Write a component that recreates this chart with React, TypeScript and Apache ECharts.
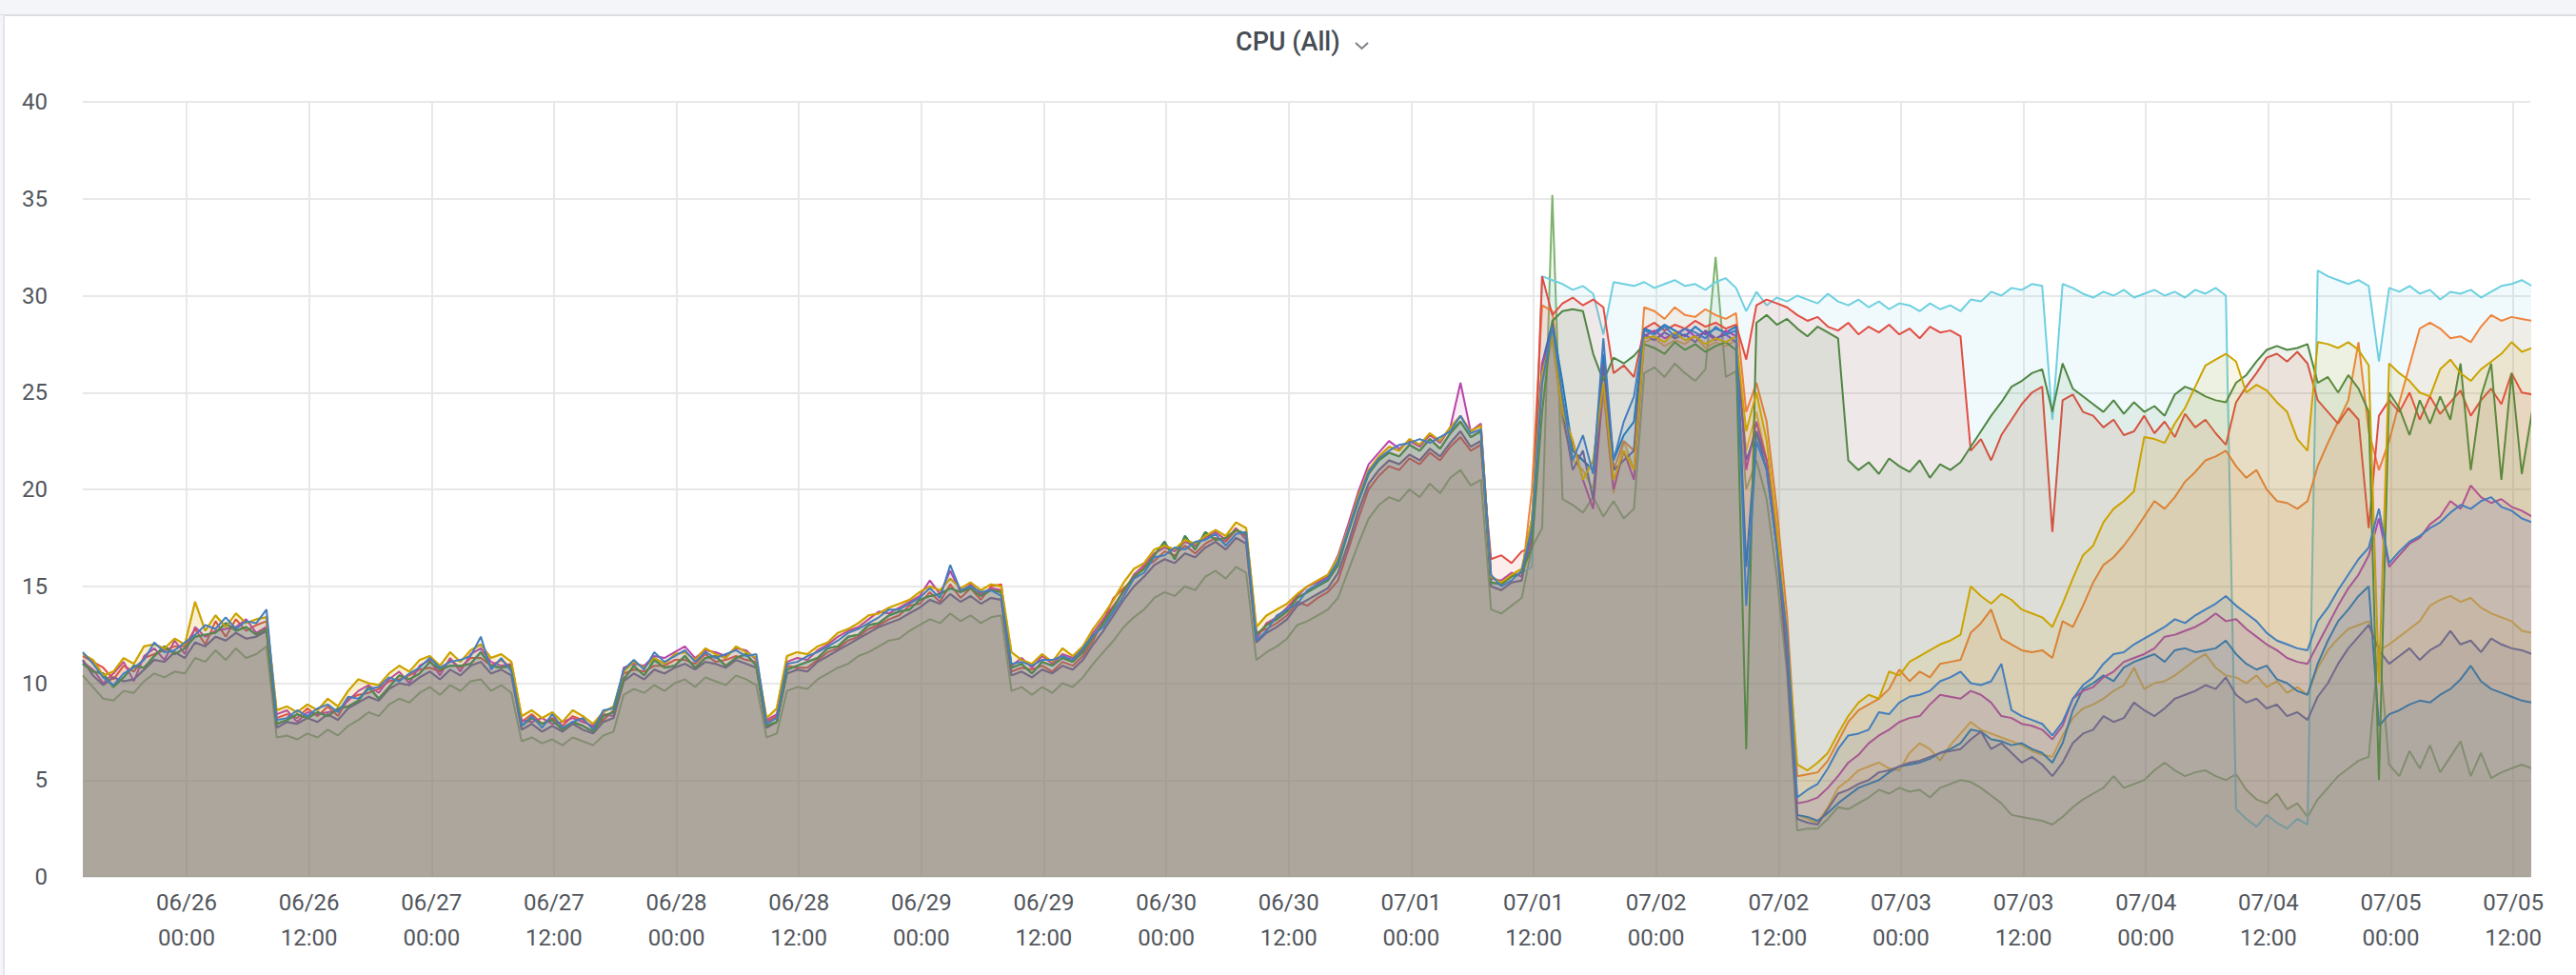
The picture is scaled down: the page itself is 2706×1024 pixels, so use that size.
import React, { useEffect, useRef } from "react";
import * as echarts from "echarts";

// time base: first sample 06/25 13:50 UTC, one sample per hour
const START = Date.UTC(2023, 5, 25, 13, 50);
const END = Date.UTC(2023, 6, 5, 13, 40);
const STEP = 3600 * 1000;

// x tick labels: every 12 hours from 06/26 00:00 to 07/05 12:00
const FIRST_TICK = Date.UTC(2023, 5, 26, 0, 0);
const TICK_COUNT = 20;
const X_TICKS = Array.from({ length: TICK_COUNT }, (_, k) => FIRST_TICK + k * 12 * STEP);

const Y_MIN = 0;
const Y_MAX = 40;
const Y_STEP = 5;

// ---- early period (06/25 14:00 .. 07/01 11:00), shared shapes ----
const EARLY_A = [
  11.5, 11.2, 10.4, 10.6, 11.3, 11.0, 11.9, 12.0, 11.8, 12.3,
  12.0, 14.2, 12.7, 13.5, 12.9, 13.6, 13.1, 13.3, 13.4, 8.6,
  8.8, 8.5, 8.9, 8.6, 9.2, 8.8, 9.6, 10.2, 10.0, 9.9,
  10.5, 10.9, 10.6, 11.2, 11.4, 10.9, 11.6, 11.1, 11.7, 12.0,
  11.3, 11.5, 11.1, 8.3, 8.6, 8.2, 8.5, 8.0, 8.6, 8.3,
  7.9, 8.5, 8.8, 10.6, 11.1, 10.8, 11.3, 11.0, 11.5, 11.6,
  11.2, 11.8, 11.5, 11.3, 11.9, 11.6, 11.3, 8.2, 8.7, 11.4,
  11.6, 11.5, 11.9, 12.1, 12.6, 12.8, 13.1, 13.5, 13.6, 13.9,
  14.1, 14.3, 14.7, 15.0, 14.8, 15.4, 14.9, 15.2, 14.8, 15.1,
  15.0, 11.6, 11.2, 11.0, 11.5, 11.1, 11.8, 11.4, 11.9, 12.8,
  13.5, 14.3, 15.2, 15.9, 16.2, 16.9, 17.1, 16.9, 17.4, 17.2,
  17.6, 17.9, 17.6, 18.3, 18.0, 12.9, 13.5, 13.8, 14.1, 14.6,
  15.0, 15.3, 15.6, 16.5, 18.0, 19.7, 21.0, 21.7, 22.2, 22.0,
  22.6, 22.3, 22.9, 22.5, 23.2, 23.8, 23.0, 23.3, 15.5, 15.2,
  15.6, 15.9,
];
const EARLY_B = [
  11.0, 10.6, 10.5, 9.8, 10.3, 10.9, 10.8, 11.4, 11.9, 11.5,
  11.8, 12.4, 12.5, 12.6, 13.1, 12.7, 12.9, 12.5, 12.8, 7.9,
  8.1, 8.4, 8.2, 8.5, 8.3, 8.7, 8.8, 9.1, 9.8, 9.2,
  9.8, 10.4, 10.2, 10.5, 11.1, 10.7, 10.9, 10.9, 11.0, 11.6,
  10.9, 10.8, 10.9, 7.8, 8.2, 7.9, 8.1, 7.6, 8.0, 7.8,
  7.5, 8.3, 8.5, 10.2, 10.9, 10.4, 11.2, 10.8, 10.9, 11.4,
  10.8, 11.3, 11.4, 10.9, 11.3, 11.5, 10.9, 7.8, 8.0, 10.7,
  10.9, 11.1, 11.3, 11.8, 11.9, 12.4, 12.5, 13.0, 13.1, 13.5,
  13.7, 13.8, 14.3, 14.5, 14.6, 14.9, 14.7, 14.9, 14.5, 14.8,
  14.7, 10.8, 11.0, 10.5, 11.1, 10.9, 11.3, 11.1, 11.6, 12.4,
  13.1, 13.9, 14.8, 15.5, 15.9, 16.6, 17.3, 16.4, 17.6, 16.9,
  17.8, 17.4, 17.5, 17.9, 17.7, 12.5, 13.0, 13.3, 13.7, 14.4,
  14.7, 15.0, 15.3, 16.1, 17.8, 19.4, 20.8, 21.5, 21.9, 21.7,
  22.3, 22.0, 22.6, 22.1, 22.9, 23.5, 22.7, 23.0, 15.2, 15.1,
  15.5, 15.7,
];
const EARLY_C = [
  11.2, 10.4, 9.9, 10.3, 10.1, 10.2, 10.7, 11.2, 11.1, 11.6,
  11.3, 12.1, 11.9, 12.4, 12.2, 12.6, 12.3, 12.4, 12.7, 7.7,
  8.0, 7.9, 8.2, 8.0, 8.4, 8.1, 8.7, 9.0, 9.3, 9.1,
  9.7, 10.0, 9.9, 10.3, 10.6, 10.2, 10.7, 10.4, 10.9, 11.1,
  10.5, 10.7, 10.4, 7.6, 7.9, 7.5, 7.8, 7.5, 7.9, 7.6,
  7.4, 8.0, 8.2, 10.1, 10.5, 10.2, 10.7, 10.5, 10.8, 11.0,
  10.7, 11.1, 11.0, 10.8, 11.2, 11.0, 10.8, 7.7, 8.0, 10.5,
  10.7, 10.6, 11.1, 11.4, 11.7, 12.0, 12.3, 12.6, 12.9, 13.1,
  13.3, 13.6, 13.9, 14.3, 14.1, 14.6, 14.2, 14.5, 14.1, 14.4,
  14.3, 10.4, 10.6, 10.3, 10.7, 10.5, 10.9, 10.7, 11.2, 12.0,
  12.7, 13.5, 14.3, 15.0, 15.5, 16.1, 16.4, 16.2, 16.7, 16.5,
  17.0, 17.3, 16.9, 17.5, 17.2, 12.1, 12.6, 12.9, 13.3, 14.0,
  14.3, 14.6, 14.9, 15.7, 17.2, 18.9, 20.3, 21.0, 21.5, 21.3,
  21.8, 21.5, 22.1, 21.7, 22.4, 23.0, 22.2, 22.5, 15.0, 14.8,
  15.2, 15.3,
];
const EARLY_D = [
  11.4, 11.1, 10.8, 10.2, 10.9, 10.6, 11.3, 11.5, 11.7, 11.9,
  11.9, 12.8, 12.0, 13.2, 12.4, 13.3, 12.7, 13.0, 13.2, 8.2,
  8.4, 8.2, 8.7, 8.3, 8.8, 8.3, 9.2, 9.4, 9.5, 9.7,
  10.1, 10.2, 10.4, 10.7, 10.8, 10.6, 11.2, 10.8, 11.3, 11.3,
  10.9, 11.2, 10.8, 8.0, 8.4, 7.9, 8.2, 7.8, 8.3, 8.1,
  7.7, 8.1, 8.6, 10.5, 10.7, 10.6, 10.9, 10.9, 11.2, 11.2,
  11.0, 11.5, 11.1, 11.2, 11.4, 11.2, 11.1, 8.0, 8.3, 10.9,
  10.8, 10.8, 11.2, 11.6, 11.8, 12.2, 12.4, 12.8, 13.0, 13.3,
  13.5, 14.0, 14.1, 14.7, 14.2, 15.1, 14.4, 14.9, 14.3, 15.0,
  15.1, 10.6, 10.8, 10.7, 10.9, 10.6, 11.1, 10.9, 11.4, 12.2,
  13.2, 14.4, 14.9, 15.4, 16.0, 16.3, 16.8, 16.6, 17.1, 16.7,
  17.2, 17.5, 17.3, 17.9, 17.6, 12.6, 12.8, 13.1, 13.5, 14.2,
  14.0, 14.4, 14.7, 15.3, 16.9, 18.5, 20.0, 20.7, 21.2, 21.0,
  21.6, 21.3, 21.9, 21.5, 22.2, 22.7, 22.0, 22.3, 16.4, 16.6,
  16.2, 16.8,
];
const EARLY_E = [
  11.1, 10.7, 10.0, 10.5, 11.1, 10.1, 11.4, 11.8, 11.2, 12.2,
  11.5, 12.9, 12.4, 12.7, 12.8, 12.9, 13.3, 12.6, 12.9, 8.4,
  8.6, 8.0, 8.5, 8.4, 8.5, 8.6, 9.1, 9.6, 9.9, 9.5,
  10.2, 10.6, 10.0, 10.9, 11.2, 10.4, 11.3, 10.6, 11.5, 11.8,
  11.1, 10.9, 11.0, 8.1, 8.0, 8.2, 7.9, 8.0, 8.2, 8.0,
  7.8, 8.4, 8.3, 10.8, 11.0, 10.9, 11.4, 11.3, 11.6, 11.9,
  11.3, 11.7, 11.6, 11.4, 11.8, 11.7, 11.2, 8.1, 8.4, 11.1,
  11.3, 11.2, 11.7, 12.0, 12.4, 12.7, 12.9, 13.3, 13.7, 13.6,
  13.9, 14.2, 14.5, 15.3, 14.6, 15.8, 14.7, 15.1, 14.6, 14.9,
  14.8, 10.9, 11.3, 10.8, 11.4, 11.0, 11.5, 11.3, 11.7, 12.6,
  13.3, 14.0, 14.7, 15.6, 16.1, 16.7, 17.0, 16.8, 17.3, 17.1,
  17.5, 17.8, 17.4, 18.0, 17.4, 12.3, 13.1, 13.4, 13.9, 14.5,
  15.0, 15.2, 15.5, 16.6, 18.2, 19.9, 21.3, 21.9, 22.5, 22.1,
  22.5, 22.2, 22.8, 22.4, 23.2, 25.5, 23.0, 23.4, 15.4, 15.3,
  15.7, 15.5,
];
const EARLY_F = [
  11.6, 11.0, 10.3, 9.9, 10.5, 10.8, 11.2, 12.1, 11.6, 11.7,
  12.1, 12.5, 13.0, 12.8, 13.4, 12.8, 13.2, 13.1, 13.8, 8.1,
  8.2, 8.6, 8.3, 8.7, 8.9, 8.5, 9.3, 9.2, 9.7, 9.8,
  10.3, 10.1, 10.5, 10.8, 11.3, 10.8, 11.1, 11.2, 11.4, 12.4,
  10.7, 11.3, 10.6, 7.8, 8.3, 7.7, 8.4, 7.7, 8.0, 8.2,
  7.6, 8.6, 8.7, 10.7, 11.2, 10.7, 11.6, 11.1, 11.4, 11.7,
  11.1, 11.6, 11.3, 11.5, 11.7, 11.4, 11.5, 7.9, 8.2, 11.0,
  11.1, 11.4, 11.6, 11.9, 12.2, 12.6, 12.8, 13.1, 13.4, 13.8,
  13.8, 14.1, 14.4, 14.9, 14.4, 16.1, 14.8, 15.0, 14.7, 14.8,
  14.5, 11.0, 11.1, 10.9, 11.2, 11.2, 11.4, 11.2, 11.8, 12.5,
  12.9, 13.7, 14.5, 15.4, 15.7, 16.5, 16.6, 17.0, 16.9, 17.3,
  17.4, 17.7, 17.1, 17.7, 17.8, 12.2, 12.7, 13.5, 13.8, 14.1,
  14.8, 15.1, 15.4, 16.3, 17.9, 19.5, 20.9, 21.6, 22.0, 22.3,
  22.4, 22.6, 22.4, 22.7, 23.0, 23.8, 22.9, 23.1, 15.6, 15.0,
  15.3, 15.8,
];
const EARLY_LOW = [
  10.4, 9.8, 9.2, 9.1, 9.6, 9.5, 10.1, 10.5, 10.3, 10.6,
  10.5, 11.3, 11.1, 11.7, 11.2, 11.8, 11.3, 11.5, 11.9, 7.2,
  7.3, 7.1, 7.4, 7.2, 7.6, 7.3, 7.8, 8.1, 8.5, 8.3,
  8.9, 9.2, 9.0, 9.5, 9.8, 9.4, 9.9, 9.6, 10.1, 10.2,
  9.6, 9.9, 9.5, 7.0, 7.2, 6.9, 7.1, 6.8, 7.2, 7.0,
  6.8, 7.3, 7.5, 9.4, 9.7, 9.5, 9.9, 9.6, 10.0, 10.2,
  9.8, 10.3, 10.1, 9.9, 10.4, 10.2, 9.9, 7.2, 7.4, 9.6,
  9.8, 9.7, 10.2, 10.5, 10.8, 11.0, 11.4, 11.6, 11.9, 12.2,
  12.3, 12.7, 13.0, 13.3, 13.1, 13.6, 13.2, 13.5, 13.1, 13.4,
  13.5, 9.6, 9.8, 9.4, 9.8, 9.5, 10.0, 9.8, 10.3, 11.0,
  11.6, 12.2, 12.9, 13.4, 13.8, 14.4, 14.7, 14.5, 15.0, 14.8,
  15.5, 15.8, 15.4, 16.0, 15.7, 11.2, 11.6, 11.9, 12.3, 13.0,
  13.2, 13.5, 13.8, 14.4, 15.8, 17.2, 18.5, 19.2, 19.6, 19.4,
  20.0, 19.6, 20.3, 19.8, 20.6, 21.0, 20.2, 20.5, 13.8, 13.6,
  14.0, 14.4,
];

// ---- late period (07/01 12:00 .. 07/05 14:00), one per series ----
const LATE_GREEN = [
  17.0, 18.0, 35.2, 19.5, 19.2, 18.8, 19.6, 18.6, 19.4, 18.5,
  19.0, 26.0, 26.3, 25.8, 26.5, 26.0, 25.6, 26.2, 32.0, 25.8,
  26.1, 20.0, 21.5, 19.5, 15.5, 10.5, 2.4, 2.5, 2.5, 3.0,
  3.6, 3.5, 3.8, 4.1, 4.5, 4.3, 4.6, 4.4, 4.5, 4.1,
  4.6, 4.8, 5.0, 4.9, 4.6, 4.2, 3.8, 3.2, 3.1, 3.0,
  2.9, 2.7, 3.1, 3.6, 4.0, 4.3, 4.6, 5.2, 4.6, 4.8,
  5.0, 5.5, 5.9, 5.5, 5.2, 5.4, 5.5, 5.2, 5.0, 5.3,
  4.5, 4.0, 3.8, 4.3, 3.5, 3.8, 3.1, 4.0, 4.6, 5.2,
  5.6, 6.0, 6.2, 12.0, 5.8, 5.2, 6.5, 5.6, 6.8, 5.4,
  6.2, 7.0, 5.2, 6.4, 5.1, 5.4, 5.6, 5.8, 5.6,
];
const LATE_YELLOW = [
  18.0, 25.5, 27.8, 23.5, 21.5, 21.0, 20.0, 25.0, 19.8, 22.5,
  21.0, 27.6, 27.8, 27.4, 27.7, 27.5, 27.9, 27.3, 27.6, 27.4,
  27.7, 22.0, 24.0, 21.5, 17.0, 11.5, 3.2, 3.0, 2.8, 3.6,
  4.6, 5.0, 5.5, 5.7, 5.9, 5.6, 5.5, 6.4, 6.9, 6.6,
  6.0, 6.8, 7.4, 8.0, 7.6, 7.4, 7.2, 7.0, 6.8, 6.5,
  6.3, 6.2, 7.3, 8.2, 8.7, 8.9, 9.2, 9.6, 9.9, 10.8,
  9.7, 10.0, 10.1, 10.4, 10.8, 11.2, 11.5, 10.8, 10.4, 10.3,
  10.0, 10.4, 9.8, 10.1, 9.5, 9.8, 9.4, 10.8, 11.7, 12.3,
  12.8, 13.0, 13.2, 11.7, 12.0, 12.4, 12.8, 13.2, 14.0, 14.3,
  14.5, 14.2, 14.4, 13.9, 13.6, 13.4, 13.2, 12.7, 12.6,
];
const LATE_CYAN = [
  16.0, 31.0, 30.8, 30.6, 30.3, 30.5, 30.1, 28.0, 30.7, 30.6,
  30.5, 30.7, 30.4, 30.6, 30.8, 30.5, 30.6, 30.3, 30.7, 30.9,
  30.4, 29.2, 30.2, 29.5, 29.9, 29.7, 30.0, 29.8, 29.6, 30.1,
  29.7, 29.5, 29.8, 29.4, 29.7, 29.3, 29.6, 29.5, 29.2, 29.6,
  29.3, 29.5, 29.2, 29.8, 29.7, 30.2, 30.0, 30.4, 30.3, 30.6,
  30.5, 23.6, 30.6, 30.4, 30.1, 29.9, 30.2, 30.0, 30.3, 29.9,
  30.1, 30.3, 30.0, 30.2, 29.9, 30.3, 30.1, 30.4, 30.0, 3.5,
  3.0, 2.6, 3.2, 2.8, 2.5, 3.0, 2.7, 31.3, 31.0, 30.8,
  30.6, 30.8, 30.5, 26.6, 30.4, 30.2, 30.5, 30.1, 30.3, 29.8,
  30.2, 30.1, 30.3, 29.9, 30.2, 30.5, 30.6, 30.8, 30.5,
];
const LATE_ORANGE = [
  20.0, 29.5, 29.2, 24.5, 22.0, 21.5, 21.0, 26.5, 21.0, 22.5,
  22.0, 29.4, 29.2, 28.8, 29.4, 29.0, 28.9, 29.3, 29.0, 28.8,
  29.1, 24.0, 25.5, 23.5, 19.0, 13.5, 5.2, 5.3, 5.4, 6.0,
  7.0, 8.0, 8.6, 8.9, 9.2, 9.7, 10.7, 10.1, 10.6, 10.3,
  11.0, 11.1, 11.2, 12.6, 13.1, 13.8, 12.3, 12.0, 11.7, 11.6,
  11.7, 11.3, 13.2, 12.9, 14.0, 15.2, 16.1, 16.5, 17.1, 17.8,
  18.6, 19.4, 19.0, 19.6, 20.4, 20.9, 21.5, 21.7, 22.0, 21.2,
  20.6, 21.0, 20.0, 19.4, 19.3, 19.0, 19.4, 21.2, 22.4, 23.5,
  24.6, 27.6, 23.0, 21.0, 22.5, 24.5, 26.4, 28.3, 28.6, 28.3,
  27.8, 27.9, 27.6, 28.4, 29.0, 28.7, 28.9, 28.8, 28.7,
];
const LATE_RED = [
  17.0, 31.0, 29.0, 29.6, 29.9, 29.5, 29.8, 29.4, 26.0, 26.4,
  25.8, 28.3, 28.6, 28.2, 28.5, 28.3, 28.7, 28.4, 28.6, 28.3,
  28.5, 26.7, 29.5, 29.8, 29.6, 29.4, 29.0, 28.7, 28.9, 28.4,
  28.2, 28.6, 28.0, 28.4, 28.1, 28.5, 28.0, 28.3, 27.8, 28.4,
  28.1, 28.2, 27.9, 22.0, 22.6, 21.5, 22.8, 23.6, 24.4, 25.0,
  25.3, 17.8, 24.6, 24.9, 24.0, 23.8, 23.2, 23.6, 22.8, 23.0,
  23.8, 22.9, 23.5, 22.7, 23.9, 23.2, 23.6, 22.9, 22.3, 24.5,
  25.3, 26.0, 26.8, 27.0, 26.6, 27.1, 26.5, 24.6, 24.0, 23.4,
  24.2, 23.6, 18.0, 23.8, 24.6, 24.0, 25.0, 23.6, 24.8, 23.9,
  24.5, 25.1, 23.8, 24.6, 25.2, 24.4, 26.0, 25.0, 24.9,
];
const LATE_BLUE = [
  18.5, 26.5, 28.6, 25.5, 22.0, 21.5, 21.0, 27.0, 21.5, 22.8,
  23.5, 28.3, 28.1, 28.5, 28.2, 27.9, 28.4, 28.0, 28.3, 28.1,
  28.4, 16.0, 23.0, 21.5, 17.5, 12.0, 3.2, 3.1, 2.9, 3.3,
  3.8, 4.2, 4.6, 4.8, 5.0, 5.4, 5.7, 5.8, 5.9, 6.1,
  6.4, 6.6, 6.9, 7.6, 7.5, 7.1, 7.0, 6.8, 6.9, 6.6,
  6.4, 5.9, 6.9, 8.6, 9.7, 10.0, 10.4, 10.1, 10.8, 11.1,
  11.3, 11.5, 11.1, 11.7, 11.8, 11.6, 11.7, 11.8, 12.2, 11.5,
  11.0, 10.7, 10.9, 10.2, 10.0, 9.6, 9.4, 11.0, 12.2, 13.2,
  13.8, 14.5, 15.0, 7.8, 8.4, 8.6, 8.9, 9.1, 9.0, 9.4,
  9.7, 10.2, 10.9, 10.1, 9.7, 9.5, 9.3, 9.1, 9.0,
];
const LATE_MAGENTA = [
  17.5, 26.5, 28.0, 24.0, 22.5, 20.5, 19.0, 25.5, 20.0, 22.0,
  20.5, 27.9, 28.2, 27.8, 28.0, 28.3, 27.9, 28.1, 27.7, 28.2,
  27.9, 21.0, 23.5, 21.5, 17.5, 12.0, 3.8, 3.9, 4.1, 4.6,
  5.2, 5.9, 6.3, 6.9, 7.3, 7.6, 8.0, 8.2, 8.3, 8.9,
  9.4, 9.3, 9.2, 9.6, 9.4, 9.0, 8.3, 8.2, 7.9, 7.8,
  7.6, 7.1, 7.8, 9.2, 9.6, 9.8, 10.3, 10.6, 11.1, 11.3,
  11.5, 11.8, 12.4, 12.5, 12.7, 12.9, 13.2, 13.6, 13.2, 13.3,
  12.8, 12.4, 12.0, 11.7, 11.3, 11.1, 11.0, 12.0, 13.0, 14.0,
  14.9, 15.6, 16.6, 18.5, 16.0, 16.6, 17.2, 17.5, 18.2, 18.6,
  19.4, 19.0, 20.2, 19.6, 19.3, 19.5, 19.1, 18.9, 18.6,
];
const LATE_VIOLET = [
  18.0, 26.0, 28.5, 24.0, 21.0, 22.0, 19.5, 26.5, 21.0, 21.5,
  22.0, 28.0, 27.7, 28.1, 27.8, 28.0, 27.6, 28.2, 27.8, 28.0,
  27.6, 21.5, 23.0, 21.0, 17.0, 11.0, 3.0, 2.8, 2.7, 3.5,
  4.3, 4.5, 4.8, 5.0, 5.4, 5.5, 5.7, 5.9, 6.0, 6.2,
  6.4, 6.5, 6.6, 7.1, 7.5, 6.6, 6.9, 6.4, 5.9, 6.2,
  5.8, 5.2, 5.9, 6.9, 7.4, 7.6, 8.3, 8.0, 8.2, 9.0,
  8.6, 8.3, 8.7, 9.2, 9.4, 9.6, 9.9, 9.7, 10.3, 9.4,
  9.0, 9.2, 8.7, 8.9, 8.3, 8.5, 8.1, 9.3, 10.0, 11.0,
  11.8, 12.4, 13.0, 11.7, 11.0, 11.4, 11.8, 11.2, 11.7, 12.0,
  12.7, 12.0, 12.2, 11.6, 12.3, 12.0, 11.8, 11.7, 11.5,
];
const LATE_DARKGREEN = [
  17.0, 24.0, 28.7, 29.2, 29.3, 29.2, 27.0, 25.6, 26.8, 26.5,
  26.9, 27.5, 27.3, 27.0, 27.6, 27.2, 27.5, 27.1, 27.4, 27.6,
  27.2, 6.6, 28.6, 29.0, 28.5, 28.8, 28.3, 27.9, 28.4, 28.1,
  27.8, 21.5, 21.0, 21.4, 20.8, 21.6, 21.2, 20.9, 21.5, 20.6,
  21.3, 21.0, 21.4, 22.2, 23.0, 23.8, 24.5, 25.3, 25.6, 26.0,
  26.2, 24.0, 26.5, 25.2, 24.8, 24.4, 24.0, 24.6, 23.9, 24.5,
  24.0, 24.3, 23.8, 24.9, 25.3, 25.1, 24.8, 24.6, 24.5, 25.5,
  25.9, 26.6, 27.2, 27.4, 27.2, 27.3, 27.5, 25.5, 25.8, 25.0,
  25.9, 25.2, 24.0, 5.0, 25.0, 24.2, 22.8, 24.6, 23.4, 24.8,
  23.6, 26.5, 21.0, 24.8, 26.5, 20.5, 26.0, 20.8, 24.0,
];
const LATE_OCHRE = [
  18.5, 26.0, 28.0, 24.0, 22.5, 20.5, 21.5, 25.5, 20.5, 22.0,
  21.0, 27.8, 27.9, 27.6, 28.1, 27.7, 27.9, 27.5, 27.8, 27.6,
  27.9, 23.0, 25.0, 22.5, 18.0, 12.5, 5.8, 5.5, 5.9, 6.4,
  7.4, 8.3, 9.0, 9.4, 9.2, 10.6, 10.4, 11.1, 11.4, 11.7,
  12.0, 12.2, 12.5, 15.0, 14.5, 14.1, 14.6, 14.3, 13.8, 13.6,
  13.4, 12.9, 14.1, 15.4, 16.6, 17.1, 18.3, 19.0, 19.4, 19.9,
  22.7, 22.6, 22.4, 23.4, 24.2, 25.3, 26.4, 26.7, 27.0, 26.6,
  25.0, 25.4, 25.1, 24.5, 24.0, 22.6, 22.0, 27.6, 27.5, 27.3,
  27.6, 27.2, 26.4, 10.0, 26.5, 26.0, 25.6, 25.0, 24.8, 26.2,
  26.7, 26.0, 25.6, 26.2, 26.6, 27.0, 27.6, 27.1, 27.3,
];
const LATE_BLUE2 = [
  18.0, 25.5, 28.4, 24.8, 21.5, 22.8, 20.8, 27.8, 21.5, 23.5,
  24.8, 28.2, 28.0, 28.4, 27.9, 28.3, 28.1, 27.8, 28.4, 28.0,
  28.2, 14.0, 22.5, 21.0, 17.0, 12.5, 4.1, 4.5, 4.8, 5.6,
  6.6, 7.3, 7.4, 7.6, 8.5, 8.4, 9.0, 9.3, 9.4, 9.6,
  10.1, 10.3, 10.6, 10.0, 9.9, 10.1, 11.0, 8.6, 8.3, 8.1,
  7.9, 7.3, 8.0, 9.2, 9.9, 10.3, 11.0, 11.5, 11.6, 12.0,
  12.3, 12.6, 12.9, 13.3, 13.1, 13.5, 13.8, 14.1, 14.5, 14.0,
  13.6, 13.2, 12.6, 12.2, 12.0, 11.8, 11.7, 13.2, 13.9, 14.8,
  15.6, 16.4, 17.0, 19.0, 16.2, 16.8, 17.3, 17.6, 18.0, 18.3,
  18.8, 19.2, 19.0, 19.4, 19.6, 19.1, 18.9, 18.5, 18.3,
];

const SERIES_NAMES = [
  "cpu-01", "cpu-02", "cpu-03", "cpu-04", "cpu-05", "cpu-06",
  "cpu-07", "cpu-08", "cpu-09", "cpu-10", "cpu-11",
];
const SERIES_COLORS = [
  "#7EB26D", "#EAB839", "#6ED0E0", "#EF843C", "#E24D42", "#1F78C1",
  "#BA43A9", "#705DA0", "#508642", "#CCA300", "#447EBC",
];
const SERIES_EARLY = [
  EARLY_LOW, EARLY_A, EARLY_B, EARLY_C, EARLY_D, EARLY_B,
  EARLY_E, EARLY_C, EARLY_B, EARLY_A, EARLY_F,
];
const SERIES_LATE = [
  LATE_GREEN, LATE_YELLOW, LATE_CYAN, LATE_ORANGE, LATE_RED, LATE_BLUE,
  LATE_MAGENTA, LATE_VIOLET, LATE_DARKGREEN, LATE_OCHRE, LATE_BLUE2,
];

const pad = (n: number) => String(n).padStart(2, "0");
const fmtTime = (v: number) => {
  const d = new Date(v);
  return `${pad(d.getUTCMonth() + 1)}/${pad(d.getUTCDate())}\n${pad(d.getUTCHours())}:${pad(d.getUTCMinutes())}`;
};

export default function App() {
  const ref = useRef<HTMLDivElement>(null);
  useEffect(() => {
    if (!ref.current) return;
    const chart = echarts.init(ref.current, null, { renderer: "svg" });
    const series: any[] = SERIES_NAMES.map((name, k) => {
      const vals = SERIES_EARLY[k].concat(SERIES_LATE[k]);
      const color = SERIES_COLORS[k];
      return {
        type: "line",
        name,
        data: vals.map((v, i) => [START + i * STEP, v]),
        showSymbol: false,
        symbol: "none",
        lineStyle: { width: 2, color },
        itemStyle: { color },
        areaStyle: { color, opacity: 0.1 },
        emphasis: { disabled: true },
        // each series on its own layer so later fills cover earlier lines
        z: 2 + k,
      };
    });
    const gridLine = { show: true, lineStyle: { color: "#e8e8e8", width: 2 } };
    chart.setOption({
      animation: false,
      backgroundColor: "#ffffff",
      grid: { left: 87, right: 48, top: 107, bottom: 103, containLabel: false },
      xAxis: {
        type: "value",
        min: START,
        max: END,
        scale: true,
        axisLine: { show: false },
        axisTick: { show: false, customValues: X_TICKS },
        splitLine: gridLine,
        axisLabel: {
          customValues: X_TICKS,
          formatter: fmtTime,
          fontSize: 24,
          lineHeight: 37,
          color: "#52565c",
          fontFamily: "Roboto",
          margin: 8,
          hideOverlap: false,
        },
      },
      yAxis: {
        type: "value",
        min: Y_MIN,
        max: Y_MAX,
        interval: Y_STEP,
        axisLine: { show: false },
        axisTick: { show: false },
        splitLine: gridLine,
        axisLabel: { fontSize: 24, color: "#52565c", fontFamily: "Roboto", margin: 37 },
      },
      graphic: [
        { type: "rect", silent: true, shape: { x: 0, y: 0, width: 2706, height: 15 }, style: { fill: "#f4f5f8" } },
        { type: "line", silent: true, shape: { x1: 0, y1: 16, x2: 2706, y2: 16 }, style: { stroke: "#dcdee3", lineWidth: 2 } },
        { type: "rect", silent: true, shape: { x: 0, y: 16, width: 3, height: 1008 }, style: { fill: "#f4f5f8" } },
        { type: "line", silent: true, shape: { x1: 4, y1: 16, x2: 4, y2: 1024 }, style: { stroke: "#e3e5e9", lineWidth: 2 } },
        {
          type: "text",
          silent: true,
          x: 1298,
          y: 44,
          style: {
            text: "CPU (All)",
            fill: "#464c54",
            fontSize: 27,
            fontWeight: 500,
            fontFamily: "Roboto",
            verticalAlign: "middle",
            align: "left",
          },
        },
        {
          type: "polyline",
          silent: true,
          shape: { points: [[1424, 45], [1430.5, 51], [1437, 45]] },
          style: { stroke: "#7c8087", lineWidth: 2, fill: "none" },
        },
      ],
      series,
    });
    return () => chart.dispose();
  }, []);
  return (
    <div
      ref={ref}
      style={{ position: "absolute", left: 0, top: 0, width: 2706, height: 1024, background: "#fff" }}
    />
  );
}
